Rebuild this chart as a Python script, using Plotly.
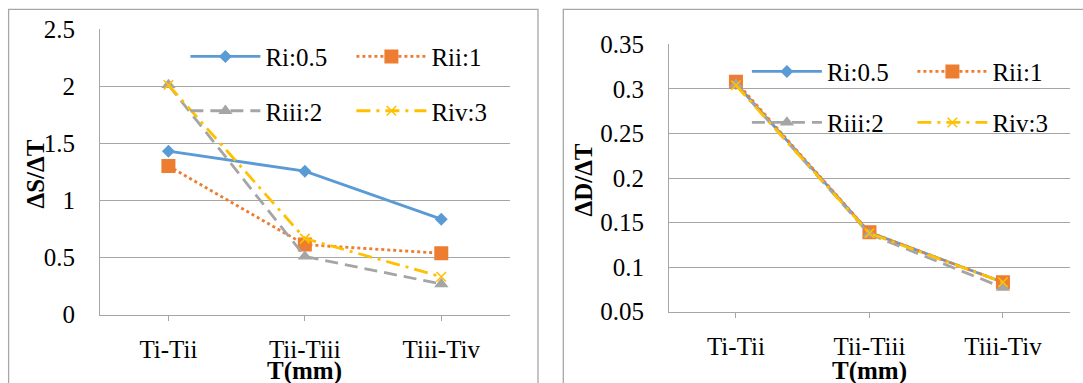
import plotly.graph_objects as go

# Temperature intervals on the category axis
categories = ["Ti-Tii", "Tii-Tiii", "Tiii-Tiv"]

# ΔS/ΔT per interval
ds_ri = [1.43, 1.255, 0.835]
ds_rii = [1.30, 0.612, 0.536]
ds_riii = [2.01, 0.508, 0.267]
ds_riv = [2.01, 0.665, 0.331]

# ΔD/ΔT per interval
dd_ri = [0.306, 0.139, 0.083]
dd_rii = [0.308, 0.139, 0.083]
dd_riii = [0.305, 0.137, 0.077]
dd_riv = [0.304, 0.138, 0.083]

series_names = ["Ri:0.5", "Rii:1", "Riii:2", "Riv:3"]
left_ticks = [0, 0.5, 1, 1.5, 2, 2.5]
right_ticks = [0.05, 0.1, 0.15, 0.2, 0.25, 0.3, 0.35]

W, H = 1083, 383
FONT = "Liberation Serif"
GRID = "#a6a6a6"

styles = [
    dict(color="#5b9bd5", dash="solid", symbol="diamond", size=10),
    dict(color="#ed7d31", dash="3px,3px", symbol="square", size=14),
    dict(color="#a5a5a5", dash="13px,7px", symbol="triangle-up", size=12.5),
    dict(color="#ffc000", dash="14px,6px,3px,6px", symbol="x-thin", size=9.5),
]


def px_x(p):
    return p / W


def px_y(p):
    return 1 - p / H


def text_font(size=25):
    return dict(family=FONT, size=size, color="black")


fig = go.Figure()

left_data = [ds_ri, ds_rii, ds_riii, ds_riv]
right_data = [dd_ri, dd_rii, dd_riii, dd_riv]

for i, (vals, st) in enumerate(zip(left_data, styles)):
    marker = dict(symbol=st["symbol"], size=st["size"], color=st["color"])
    if st["symbol"] == "x-thin":
        marker["line"] = dict(color=st["color"], width=1.6)
    fig.add_trace(go.Scatter(
        x=categories, y=vals, name=series_names[i], mode="lines+markers",
        line=dict(color=st["color"], width=2.8, dash=st["dash"]),
        marker=marker, xaxis="x", yaxis="y",
        legend="legend" if i == 0 else f"legend{i + 1}",
    ))

for i, (vals, st) in enumerate(zip(right_data, styles)):
    marker = dict(symbol=st["symbol"], size=st["size"], color=st["color"])
    if st["symbol"] == "x-thin":
        marker["line"] = dict(color=st["color"], width=1.6)
    fig.add_trace(go.Scatter(
        x=categories, y=vals, name=series_names[i], mode="lines+markers",
        line=dict(color=st["color"], width=2.8, dash=st["dash"]),
        marker=marker, xaxis="x2", yaxis="y2",
        legend=f"legend{i + 5}",
    ))

# Legend placement: two rows of two entries inside each plot
left_leg_pos = [(190.4, 56.7), (356.4, 56.7), (190.4, 111), (356.4, 111)]
right_leg_pos = [(751.9, 71.7), (917.4, 71.7), (751.9, 122.7), (917.4, 122.7)]
LEG_DX = 5

legends = {}
for k, (lx, ly) in enumerate(left_leg_pos + right_leg_pos):
    key = "legend" if k == 0 else f"legend{k + 1}"
    legends[key] = dict(
        x=px_x(lx - LEG_DX), y=px_y(ly), xanchor="left", yanchor="middle",
        bgcolor="rgba(0,0,0,0)", borderwidth=0, font=text_font(),
        itemwidth=70, tracegroupgap=0,
    )

common_x = dict(
    type="category", range=[-0.5, 2.5], showgrid=False, showline=True,
    linecolor=GRID, linewidth=1.3, ticks="outside", ticklen=5,
    tickcolor=GRID, tickwidth=1.3, tickfont=text_font(),
    ticklabelstandoff=7, automargin=False,
)
common_y = dict(
    showgrid=True, gridcolor=GRID, gridwidth=1.3, showline=True,
    linecolor=GRID, linewidth=1.3, ticks="", tickfont=text_font(),
    ticklabelstandoff=19, zeroline=False, automargin=False,
)

fig.update_layout(
    width=W, height=H,
    margin=dict(l=0, r=0, t=0, b=0, pad=0, autoexpand=False),
    paper_bgcolor="white", plot_bgcolor="white",
    showlegend=True,
    font=text_font(),
    xaxis=dict(domain=[px_x(100.2), px_x(509.5)], anchor="y", **common_x),
    yaxis=dict(domain=[px_y(314.5), px_y(29)], anchor="x", range=[0, 2.5],
               tickvals=left_ticks,
               ticktext=[f"{v:g}" for v in left_ticks], **common_y),
    xaxis2=dict(domain=[px_x(669.2), px_x(1069.7)], anchor="y2", **common_x),
    yaxis2=dict(domain=[px_y(311.7), px_y(44.3)], anchor="x2",
                range=[0.05, 0.35], tickvals=right_ticks,
                ticktext=[f"{v:g}" for v in right_ticks], **common_y),
    **legends,
)

# Chart frames
fig.add_shape(type="rect", xref="paper", yref="paper",
              x0=px_x(8.6), x1=px_x(538), y0=px_y(400), y1=px_y(9.3),
              line=dict(color=GRID, width=1.3), layer="below")
fig.add_shape(type="rect", xref="paper", yref="paper",
              x0=px_x(563.3), x1=px_x(1100), y0=px_y(400), y1=px_y(9.3),
              line=dict(color=GRID, width=1.3), layer="below")

# End tick on each category axis
for xr, yr, y0 in (("x", "y", 0), ("x2", "y2", 0.05)):
    fig.add_shape(type="line", xref=xr, yref=yr, x0=2.5, x1=2.5,
                  ysizemode="pixel", yanchor=y0, y0=0, y1=-5,
                  line=dict(color=GRID, width=1.3))

fig.add_annotation(text="<b>ΔS/ΔT</b>", xref="paper", yref="paper",
                   x=px_x(34.5), y=px_y(174), textangle=-90, showarrow=False,
                   font=text_font(), xanchor="center", yanchor="middle")
fig.add_annotation(text="<b>ΔD/ΔT</b>", xref="paper", yref="paper",
                   x=px_x(582.5), y=px_y(180), textangle=-90, showarrow=False,
                   font=text_font(), xanchor="center", yanchor="middle")
fig.add_annotation(text="<b>T(mm)</b>", xref="paper", yref="paper",
                   x=px_x(304.8), y=px_y(371), showarrow=False,
                   font=text_font(), xanchor="center", yanchor="middle")
fig.add_annotation(text="<b>T(mm)</b>", xref="paper", yref="paper",
                   x=px_x(869.3), y=px_y(371), showarrow=False,
                   font=text_font(), xanchor="center", yanchor="middle")

fig.write_html("out.html")
